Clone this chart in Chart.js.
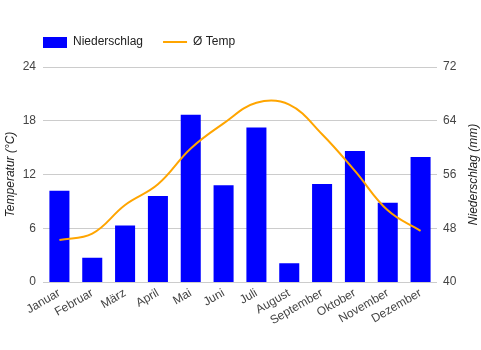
<!DOCTYPE html>
<html>
<head>
<meta charset="utf-8">
<script src="https://cdn.jsdelivr.net/npm/chart.js@4"></script>
<style>
  html, body { margin: 0; padding: 0; background: #fff; }
  #wrap { width: 481px; height: 350px; }
</style>
</head>
<body>
<div id="wrap"><canvas id="klima" width="481" height="350"></canvas></div>
<script>
// Monate, Niederschlag (mm) und Durchschnittstemperatur (°C)
const months = ['Januar', 'Februar', 'März', 'April', 'Mai', 'Juni', 'Juli', 'August', 'September', 'Oktober', 'November', 'Dezember'];
const rain = [53.6, 43.6, 48.4, 52.8, 64.9, 54.4, 63.0, 42.8, 54.6, 59.5, 51.8, 58.6];
const temp = [4.7, 5.4, 8.6, 10.9, 14.9, 17.7, 20.0, 19.8, 16.5, 12.4, 8.0, 5.7];
const tempTicks = [0, 6, 12, 18, 24];
const rainTicks = [40, 48, 56, 64, 72];

const FONT = "'Liberation Sans', Arial, sans-serif";
Chart.defaults.font.family = FONT;
Chart.defaults.font.size = 12;

// kleines blaues Rechteck fuer die Legende
const barIcon = document.createElement('canvas');
barIcon.width = 24;
barIcon.height = 11;
const bctx = barIcon.getContext('2d');
bctx.fillStyle = '#0000ff';
bctx.fillRect(0, 0, 24, 11);

// Legende: feste Hoehe, links buendig mit der Zeichenflaeche
const legendFix = {
    id: 'legendFix',
    afterInit(chart) {
        const lg = chart.legend;
        const fit = lg.fit;
        lg.fit = function () { fit.call(this); this.height = 51; };
        const draw = lg.draw;
        lg.draw = function () { this.left = 23; draw.call(this); };
    }
};

// rechter Achsentitel, von unten nach oben gelesen
const rightTitle = {
    id: 'rightTitle',
    afterDraw(chart) {
        const { ctx, chartArea } = chart;
        ctx.save();
        ctx.translate(474, (chartArea.top + chartArea.bottom) / 2);
        ctx.rotate(-Math.PI / 2);
        ctx.font = "italic 12px " + FONT;
        ctx.fillStyle = '#222';
        ctx.textAlign = 'center';
        ctx.textBaseline = 'middle';
        ctx.fillText('Niederschlag (mm)', 0, 0);
        ctx.restore();
    }
};

new Chart(document.getElementById('klima'), {
    type: 'bar',
    data: {
        labels: months,
        datasets: [
            { label: 'Niederschlag', data: rain, yAxisID: 'yRain', backgroundColor: '#0000ff', categoryPercentage: 1, barPercentage: 0.61, pointStyle: barIcon, order: 2 },
            { label: 'Ø Temp', type: 'line', data: temp, yAxisID: 'yTemp', borderColor: '#ffa500', backgroundColor: '#ffa500', borderWidth: 2, pointRadius: 0, tension: 0.4, pointStyle: 'line', order: 1 }
        ]
    },
    options: {
        responsive: false,
        animation: false,
        layout: { padding: { top: 16, left: 0, right: 0, bottom: 0 } },
        plugins: {
            tooltip: { enabled: false },
            legend: {
                position: 'top',
                align: 'start',
                labels: {
                    usePointStyle: true, pointStyleWidth: 24, boxWidth: 24, boxHeight: 11, padding: 20, color: '#222', font: { size: 12 },
                    sort: (a, b) => a.datasetIndex - b.datasetIndex
                }
            }
        },
        scales: {
            x: {
                grid: { display: false, drawTicks: false },
                border: { display: false },
                ticks: { autoSkip: false, minRotation: 30, maxRotation: 30, padding: 4, color: '#444', font: { size: 12 } },
                afterFit: s => { s.height = 68; }
            },
            yTemp: {
                position: 'left',
                min: 0, max: 24,
                afterBuildTicks: s => { s.ticks = tempTicks.map(v => ({ value: v })); },
                grid: { color: '#cccccc', drawTicks: false },
                border: { display: false },
                ticks: { padding: 7, color: '#444', font: { size: 12 } },
                title: { display: true, text: 'Temperatur (°C)', color: '#222', font: { size: 12, style: 'italic' }, padding: { top: 3, bottom: 4 } },
                afterFit: s => { s.width = 43; }
            },
            yRain: {
                position: 'right',
                min: 40, max: 72,
                afterBuildTicks: s => { s.ticks = rainTicks.map(v => ({ value: v })); },
                grid: { display: false, drawTicks: false },
                border: { display: false },
                ticks: { padding: 6, color: '#444', font: { size: 12 } },
                afterFit: s => { s.width = 44; }
            }
        }
    },
    plugins: [legendFix, rightTitle]
});
</script>
</body>
</html>
